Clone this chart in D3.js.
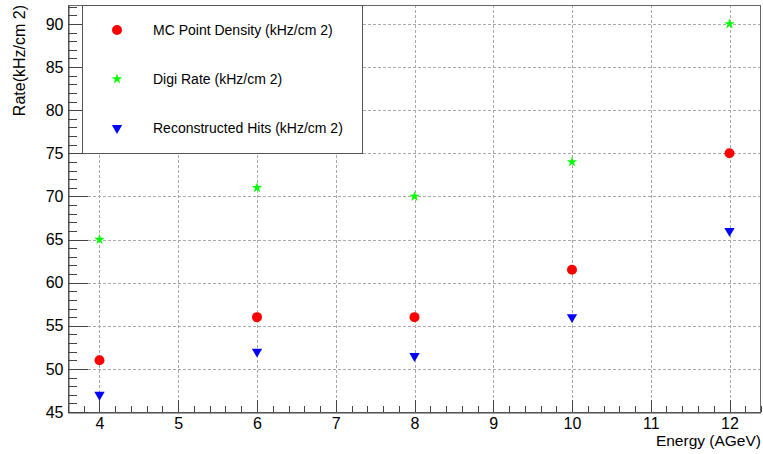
<!DOCTYPE html>
<html><head><meta charset="utf-8">
<script src="https://cdn.jsdelivr.net/npm/d3@7"></script>
<style>body{margin:0;background:#fff;}svg{display:block;font-family:"Liberation Sans",Arial,sans-serif;}</style>
</head><body>
<svg id="c" width="763" height="454"></svg>
<script>
const energies = [4, 6, 8, 10, 12];
const mcPointDensity = [51, 56, 56, 61.5, 75];
const digiRate = [65, 71, 70, 74, 90];
const recoHits = [47, 52, 51.5, 56, 66];
const seriesNames = ["MC Point Density (kHz/cm 2)", "Digi Rate (kHz/cm 2)", "Reconstructed Hits (kHz/cm 2)"];
const xTicks = [4, 5, 6, 7, 8, 9, 10, 11, 12];
const yTicks = [45, 50, 55, 60, 65, 70, 75, 80, 85, 90];
const xTitle = "Energy (AGeV)";
const yTitle = "Rate(kHz/cm 2)";

const W = 763, H = 454;
const L = 68, R = 761, T = 5, B = 412;
const svg = d3.select("#c");
const x = d3.scaleLinear().domain([3.6, 12.4]).range([L, R]);
const y = d3.scaleLinear().domain([45, 92.2]).range([B, T]);

// grid
const g = svg.append("g");
g.selectAll(".gx").data(xTicks).enter().append("line")
  .attr("x1", d => Math.round(x(d)) + 0.5).attr("x2", d => Math.round(x(d)) + 0.5)
  .attr("y1", T).attr("y2", B).attr("stroke", "#aaa").attr("stroke-dasharray", "3,2").attr("stroke-width", 1);
g.selectAll(".gy").data(yTicks).enter().append("line")
  .attr("y1", d => Math.round(y(d)) + 0.5).attr("y2", d => Math.round(y(d)) + 0.5)
  .attr("x1", L).attr("x2", R).attr("stroke", "#aaa").attr("stroke-dasharray", "3,2").attr("stroke-width", 1);

// frame
svg.append("rect").attr("x", L + 0.5).attr("y", T + 0.5).attr("width", R - L - 1).attr("height", B - T)
  .attr("fill", "none").attr("stroke", "#666").attr("stroke-width", 1);

// x axis
const xMinor = d3.range(3.6, 12.41, 0.2).map(v => Math.round(v * 10) / 10).filter(v => !xTicks.includes(v));
const xAxis = svg.append("g").attr("transform", `translate(0,${B + 0.5})`)
  .call(d3.axisBottom(x).tickValues(xTicks).tickSize(0).tickPadding(5).tickFormat(d3.format("d")));
xAxis.select(".domain").attr("stroke", "#444");
xAxis.selectAll("text").attr("font-size", 16).attr("fill", "#000").attr("font-family", "Liberation Sans, Arial, sans-serif");
svg.selectAll(".xmaj").data(xTicks).enter().append("line")
  .attr("x1", d => Math.round(x(d)) + 0.5).attr("x2", d => Math.round(x(d)) + 0.5)
  .attr("y1", B).attr("y2", B - 12).attr("stroke", "#444");
svg.selectAll(".xmin").data(xMinor).enter().append("line")
  .attr("x1", d => Math.round(x(d)) + 0.5).attr("x2", d => Math.round(x(d)) + 0.5)
  .attr("y1", B).attr("y2", B - 6).attr("stroke", "#444");

// y axis
const yMinor = d3.range(45, 93, 1).filter(v => !yTicks.includes(v));
const yAxis = svg.append("g").attr("transform", `translate(${L + 0.5},0)`)
  .call(d3.axisLeft(y).tickValues(yTicks).tickSize(0).tickPadding(5).tickFormat(d3.format("d")));
yAxis.select(".domain").attr("stroke", "#444");
yAxis.selectAll("text").attr("font-size", 16).attr("fill", "#000").attr("font-family", "Liberation Sans, Arial, sans-serif");
svg.selectAll(".ymaj").data(yTicks).enter().append("line")
  .attr("y1", d => Math.round(y(d)) + 0.5).attr("y2", d => Math.round(y(d)) + 0.5)
  .attr("x1", L).attr("x2", L + 20).attr("stroke", "#444");
svg.selectAll(".ymin").data(yMinor).enter().append("line")
  .attr("y1", d => Math.round(y(d)) + 0.5).attr("y2", d => Math.round(y(d)) + 0.5)
  .attr("x1", L).attr("x2", L + 9).attr("stroke", "#444");

// titles
svg.append("text").attr("x", R).attr("y", 446).attr("text-anchor", "end").attr("font-size", 15.5).text(xTitle);
svg.append("text").attr("transform", `translate(25,${T}) rotate(-90)`).attr("text-anchor", "end").attr("font-size", 16).text(yTitle);

// markers
const circle = d3.symbol().type(d3.symbolCircle).size(78);
const star = d3.symbol().type(d3.symbolStar).size(34);
const tri = d3.symbol().type(d3.symbolTriangle).size(46);
function drawSeries(vals, sym, color, rot) {
  svg.append("g").selectAll("path").data(energies.map((e, i) => [e, vals[i]])).enter().append("path")
    .attr("d", sym).attr("fill", color)
    .attr("transform", d => `translate(${x(d[0])},${y(d[1])}) rotate(${rot})`);
}
drawSeries(mcPointDensity, circle, "#ff0000", 0);
drawSeries(digiRate, star, "#00ff00", 0);
drawSeries(recoHits, tri, "#0000ff", 180);

// legend
const lg = svg.append("g");
lg.append("rect").attr("x", 82.5).attr("y", T + 0.5).attr("width", 280).attr("height", 148).attr("fill", "#fff").attr("stroke", "#555");
const legY = [30, 79, 128];
const syms = [[circle, "#ff0000", 0], [star, "#00ff00", 0], [tri, "#0000ff", 180]];
seriesNames.forEach((n, i) => {
  lg.append("path").attr("d", syms[i][0]).attr("fill", syms[i][1]).attr("transform", `translate(117,${legY[i]}) rotate(${syms[i][2]})`);
  lg.append("text").attr("x", 153).attr("y", legY[i] + 5).attr("font-size", 14).text(n);
});
</script>
</body></html>
